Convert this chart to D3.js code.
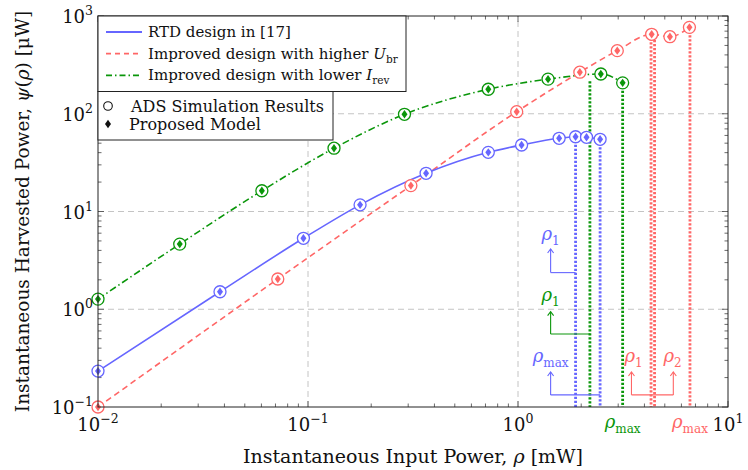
<!DOCTYPE html>
<html>
<head>
<meta charset="utf-8">
<script src="https://cdn.jsdelivr.net/npm/d3@7"></script>
<style>
  body { margin: 0; background: #fff; }
  text { font-family: "DejaVu Serif", "Liberation Serif", serif; fill: #111; }
</style>
</head>
<body>
<svg id="chart" width="748" height="470"></svg>
<script>
// series (rho in mW, psi in uW)
const rtdRho = [0.01, 0.0381, 0.0951, 0.177, 0.365, 0.722, 1.04, 1.57, 1.88, 2.12, 2.46];
const rtdPsi = [0.233, 1.51, 5.32, 11.7, 24.6, 40.3, 47.9, 56.1, 58.2, 57.4, 54.8];

const highUbrRho = [0.01, 0.0718, 0.309, 0.986, 1.97, 2.97, 4.33, 5.29, 6.55];
const highUbrPsi = [0.1, 2.04, 18.4, 105, 266, 442, 650, 614, 765];

const lowIrevRho = [0.01, 0.0245, 0.0603, 0.133, 0.288, 0.722, 1.39, 2.48, 3.15];
const lowIrevPsi = [1.27, 4.64, 16.3, 44.4, 98.7, 178, 226, 255, 207];

// threshold markers: [rho, psi at top of the dotted line]
const rtdThresh = [[1.88, 58.2], [2.46, 54.8]];
const lowIrevThresh = [[2.2, 215], [3.15, 207]];
const highUbrThresh = [[4.3, 650], [4.47, 624], [6.59, 765]];

const xExps = [-2, -1, 0, 1];
const yExps = [-1, 0, 1, 2, 3];

const blue = '#6666ff', red = '#ff6666', green = '#0a960a';

const width = 748, height = 470;
const margin = { top: 16, right: 20, bottom: 63, left: 98 };

const svg = d3.select('#chart');

const x = d3.scaleLog().domain([0.01, 10]).range([margin.left, width - margin.right]);
const y = d3.scaleLog().domain([0.1, 1000]).range([height - margin.bottom, margin.top]);
const [x0, x1] = x.range();
const [y0, y1] = y.range();

// grid
const grid = svg.append('g').attr('stroke', '#c4c4c4').attr('stroke-dasharray', '6,4').attr('stroke-width', 1);
[0.1, 1].forEach(v => grid.append('line').attr('x1', x(v)).attr('x2', x(v)).attr('y1', y0).attr('y2', y1));
[1, 10, 100].forEach(v => grid.append('line').attr('y1', y(v)).attr('y2', y(v)).attr('x1', x0).attr('x2', x1));

// ticks on all four sides, pointing inward
const isMajor = v => Math.abs(Math.log10(v) - Math.round(Math.log10(v))) < 1e-6;
const tickLen = v => isMajor(v) ? 6 : 3.5;
const xt = x.ticks(), yt = y.ticks();
const ticks = svg.append('g').attr('stroke', '#444').attr('stroke-width', 0.8);
xt.forEach(v => {
  ticks.append('line').attr('x1', x(v)).attr('x2', x(v)).attr('y1', y0).attr('y2', y0 - tickLen(v));
  ticks.append('line').attr('x1', x(v)).attr('x2', x(v)).attr('y1', y1).attr('y2', y1 + tickLen(v));
});
yt.forEach(v => {
  ticks.append('line').attr('y1', y(v)).attr('y2', y(v)).attr('x1', x0).attr('x2', x0 + tickLen(v));
  ticks.append('line').attr('y1', y(v)).attr('y2', y(v)).attr('x1', x1).attr('x2', x1 - tickLen(v));
});

// dotted threshold lines
function thresholds(data, color) {
  svg.append('g').selectAll('line').data(data).join('line')
    .attr('x1', d => x(d[0])).attr('x2', d => x(d[0]))
    .attr('y1', d => y(d[1])).attr('y2', y0)
    .attr('stroke', color).attr('stroke-width', 2.8).attr('stroke-dasharray', '2.2,1.8');
}
thresholds(rtdThresh, blue);
thresholds(lowIrevThresh, green);
thresholds(highUbrThresh, red);

// curves
const line = d3.line().x(d => x(d[0])).y(d => y(d[1])).curve(d3.curveMonotoneX);
const zip = (a, b) => a.map((v, i) => [v, b[i]]);
const series = [
  { data: zip(lowIrevRho, lowIrevPsi), color: green, dash: '7,3,1.5,3' },
  { data: zip(highUbrRho, highUbrPsi), color: red, dash: '6,4' },
  { data: zip(rtdRho, rtdPsi), color: blue, dash: null }
];
series.forEach(s => {
  svg.append('path').attr('d', line(s.data)).attr('fill', 'none')
    .attr('stroke', s.color).attr('stroke-width', 1.6)
    .attr('stroke-dasharray', s.dash);
});

// markers: ADS circle + model diamond
const diamond = 'M0,-4.2L3,0L0,4.2L-3,0Z';
series.forEach(s => {
  const g = svg.append('g');
  g.selectAll('circle').data(s.data).join('circle')
    .attr('cx', d => x(d[0])).attr('cy', d => y(d[1])).attr('r', 6)
    .attr('fill', '#fff').attr('stroke', s.color).attr('stroke-width', 1.3);
  g.selectAll('path').data(s.data).join('path')
    .attr('d', diamond).attr('transform', d => `translate(${x(d[0])},${y(d[1])})`)
    .attr('fill', s.color);
});

// frame
svg.append('rect').attr('x', x0).attr('y', y1).attr('width', x1 - x0).attr('height', y0 - y1)
  .attr('fill', 'none').attr('stroke', '#222').attr('stroke-width', 1);

// tick labels
function powText(sel, e) {
  sel.append('tspan').text('10');
  sel.append('tspan').attr('dy', -8).attr('font-size', 12.5).text(e < 0 ? '\u2212' + (-e) : e);
}
xExps.forEach(e => {
  svg.append('text').attr('x', x(Math.pow(10, e))).attr('y', y0 + 24)
    .attr('text-anchor', 'middle').attr('font-size', 18).call(powText, e);
});
yExps.forEach(e => {
  svg.append('text').attr('x', x0 - 5).attr('y', y(Math.pow(10, e)) + 7)
    .attr('text-anchor', 'end').attr('font-size', 18).call(powText, e);
});

// axis titles
svg.append('text').attr('x', (x0 + x1) / 2).attr('y', 463).attr('text-anchor', 'middle')
  .attr('font-size', 19)
  .call(t => {
    t.append('tspan').text('Instantaneous Input Power, ');
    t.append('tspan').attr('font-style', 'italic').text('\u03c1');
    t.append('tspan').text(' [mW]');
  });
svg.append('text').attr('transform', `translate(29,${(y0 + y1) / 2}) rotate(-90)`)
  .attr('text-anchor', 'middle').attr('font-size', 18.5)
  .call(t => {
    t.append('tspan').text('Instantaneous Harvested Power, ');
    t.append('tspan').attr('font-style', 'italic').text('\u03c8');
    t.append('tspan').text('(');
    t.append('tspan').attr('font-style', 'italic').text('\u03c1');
    t.append('tspan').text(') [\u03bcW]');
  });

// rho labels
function rhoText(sel, sub) {
  sel.append('tspan').attr('font-style', 'italic').text('\u03c1');
  sel.append('tspan').attr('dy', 5).attr('font-size', 12).text(sub);
}
function bracket(arrows, toX, yLevel, tipY, color) {
  const g = svg.append('g').attr('stroke', color).attr('stroke-width', 1.1).attr('fill', 'none');
  const xs = arrows.concat([toX]);
  g.append('line').attr('x1', x(d3.min(xs))).attr('x2', x(d3.max(xs)))
    .attr('y1', y(yLevel)).attr('y2', y(yLevel));
  arrows.forEach(a => {
    g.append('line').attr('x1', x(a)).attr('x2', x(a)).attr('y1', y(yLevel)).attr('y2', y(tipY));
    g.append('path').attr('d', `M${x(a) - 3},${y(tipY) + 4}L${x(a)},${y(tipY)}L${x(a) + 3},${y(tipY) + 4}`);
  });
}
bracket([1.43], 1.88, 2.37, 4.13, blue);
bracket([1.43], 2.2, 0.558, 0.944, green);
bracket([1.43], 2.46, 0.133, 0.228, blue);
bracket([3.47, 5.49], 4.3, 0.133, 0.228, red);

const rhoLabels = [
  { x: 1.43, y: 5.6, sub: '1', color: blue },
  { x: 1.43, y: 1.33, sub: '1', color: green },
  { x: 1.43, y: 0.317, sub: 'max', color: blue },
  { x: 3.55, y: 0.317, sub: '1', color: red },
  { x: 5.45, y: 0.317, sub: '2', color: red }
];
rhoLabels.forEach(l => {
  svg.append('text').attr('x', x(l.x)).attr('y', y(l.y) + 4).attr('text-anchor', 'middle')
    .attr('font-size', 18).style('fill', l.color).call(rhoText, l.sub);
});
[[3.15, green], [6.59, red]].forEach(([v, c]) => {
  svg.append('text').attr('x', x(v)).attr('y', y0 + 21).attr('text-anchor', 'middle')
    .attr('font-size', 18).style('fill', c).call(rhoText, 'max');
});

// legends
const leg1 = svg.append('g');
leg1.append('rect').attr('x', x0).attr('y', y1).attr('width', 308).attr('height', 75.5)
  .attr('fill', '#fff').attr('stroke', '#222');
const legItems = [
  { color: blue, dash: null, label: t => t.append('tspan').text('RTD design in [17]') },
  { color: red, dash: '5,4', label: t => {
      t.append('tspan').text('Improved design with higher ');
      t.append('tspan').attr('font-style', 'italic').text('U');
      t.append('tspan').attr('dy', 4).attr('font-size', 10.5).text('br');
    } },
  { color: green, dash: '6,3,1.5,3', label: t => {
      t.append('tspan').text('Improved design with lower ');
      t.append('tspan').attr('font-style', 'italic').text('I');
      t.append('tspan').attr('dy', 4).attr('font-size', 10.5).text('rev');
    } }
];
legItems.forEach((it, i) => {
  const yy = y1 + 16 + i * 21.7;
  leg1.append('line').attr('x1', x0 + 8).attr('x2', x0 + 44).attr('y1', yy).attr('y2', yy)
    .attr('stroke', it.color).attr('stroke-width', 1.8).attr('stroke-dasharray', it.dash);
  leg1.append('text').attr('x', x0 + 50).attr('y', yy + 5).attr('font-size', 15).call(it.label);
});

const leg2 = svg.append('g');
leg2.append('rect').attr('x', x0).attr('y', y1 + 75.5).attr('width', 235).attr('height', 48.5)
  .attr('fill', '#fff').attr('stroke', '#222');
leg2.append('circle').attr('cx', x0 + 10).attr('cy', y1 + 90).attr('r', 4.3)
  .attr('fill', 'none').attr('stroke', '#111').attr('stroke-width', 1.1);
leg2.append('path').attr('d', diamond).attr('transform', `translate(${x0 + 10},${y1 + 108})`).attr('fill', '#111');
leg2.append('text').attr('x', x0 + 33).attr('y', y1 + 96).attr('font-size', 16).text('ADS Simulation Results');
leg2.append('text').attr('x', x0 + 31).attr('y', y1 + 114).attr('font-size', 16).text('Proposed Model');
</script>
</body>
</html>
